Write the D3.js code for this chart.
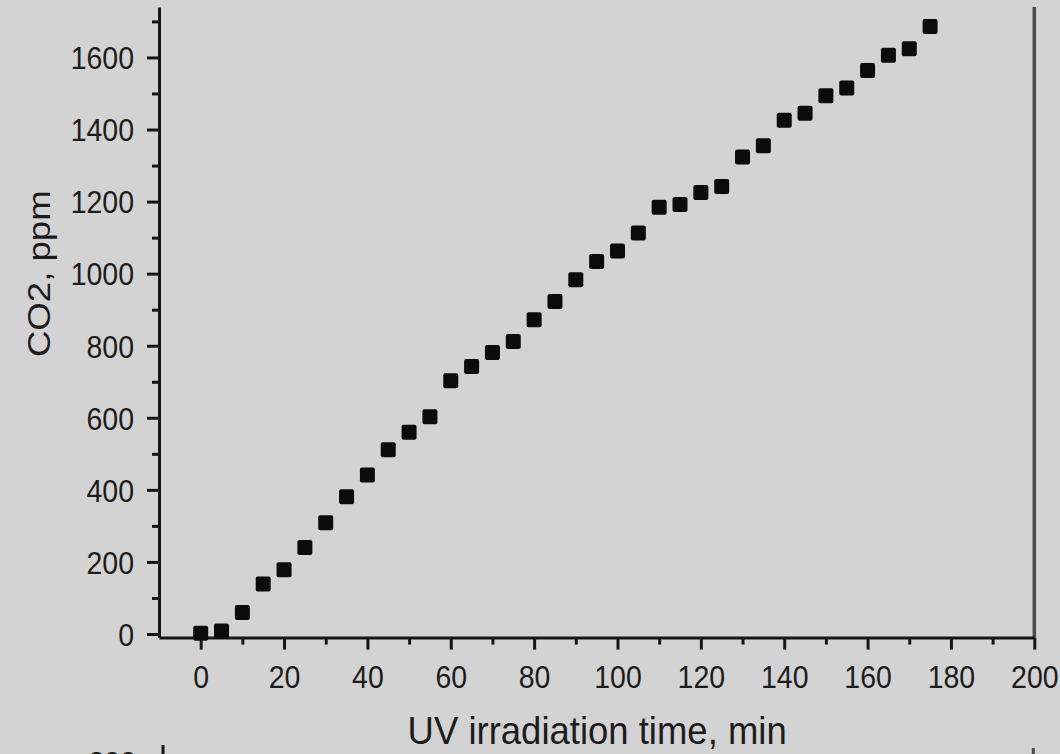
<!DOCTYPE html>
<html>
<head>
<meta charset="utf-8">
<script src="https://cdn.jsdelivr.net/npm/d3@7"></script>
<style>
  html, body { margin: 0; padding: 0; background: #d3d3d3; }
  svg { display: block; }
  text { font-family: "Liberation Sans", Arial, sans-serif; fill: #1c1c1c; }
</style>
</head>
<body>
<svg id="chart" width="1060" height="754"></svg>
<script>
// ---- data ----
const times = [0, 5, 10, 15, 20, 25, 30, 35, 40, 45, 50, 55, 60, 65, 70, 75, 80, 85,
               90, 95, 100, 105, 110, 115, 120, 125, 130, 135, 140, 145, 150, 155, 160, 165, 170, 175];
const co2 = [2, 8, 60, 139, 178, 240, 309, 381, 441, 511, 560, 603, 703, 742, 781, 812, 872, 923,
             983, 1034, 1063, 1113, 1184, 1192, 1225, 1242, 1324, 1355, 1426, 1445, 1494, 1515, 1564, 1606, 1624, 1686];
const xMajorTicks = [0, 20, 40, 60, 80, 100, 120, 140, 160, 180, 200];
const xMinorTicks = [10, 30, 50, 70, 90, 110, 130, 150, 170, 190];
const yMajorTicks = [0, 200, 400, 600, 800, 1000, 1200, 1400, 1600];
const yMinorTicks = [100, 300, 500, 700, 900, 1100, 1300, 1500, 1700];
const xTitle = "UV irradiation time, min";
const yTitle = "CO2, ppm";

// ---- layout ----
const svg = d3.select("#chart");
svg.append("rect").attr("width", 1060).attr("height", 754).attr("fill", "#d3d3d3");

const x = d3.scaleLinear().domain([-10, 200]).range([159, 1034.3]);
const y = d3.scaleLinear().domain([-10, 1740]).range([637.6, 7]);
const axisColor = "#161616";

// right frame line
svg.append("line")
  .attr("x1", x.range()[1]).attr("x2", x.range()[1])
  .attr("y1", y.range()[1]).attr("y2", y.range()[0])
  .attr("stroke", "#4d4d4d").attr("stroke-width", 3.5);

// minor ticks
svg.append("g").attr("transform", `translate(0,${y.range()[0]})`)
  .call(d3.axisBottom(x).tickValues(xMinorTicks).tickSize(7).tickSizeOuter(0).tickFormat(""))
  .call(g => g.select(".domain").remove())
  .call(g => g.selectAll("line").attr("stroke", axisColor).attr("stroke-width", 3));
svg.append("g").attr("transform", `translate(${x.range()[0]},0)`)
  .call(d3.axisLeft(y).tickValues(yMinorTicks).tickSize(7).tickSizeOuter(0).tickFormat(""))
  .call(g => g.select(".domain").remove())
  .call(g => g.selectAll("line").attr("stroke", axisColor).attr("stroke-width", 3));

// major x axis
const gx = svg.append("g").attr("transform", `translate(0,${y.range()[0]})`)
  .call(d3.axisBottom(x).tickValues(xMajorTicks).tickSize(12).tickSizeOuter(0).tickFormat(d3.format("d")));
gx.select(".domain").attr("stroke", axisColor).attr("stroke-width", 3);
gx.selectAll(".tick line").attr("stroke", axisColor).attr("stroke-width", 3);
gx.selectAll(".tick text")
  .attr("y", 45.8).attr("dy", 0)
  .attr("transform", "scale(1,1.1)")
  .style("font-size", "28.5px").attr("fill", "#1c1c1c");

// major y axis
const gy = svg.append("g").attr("transform", `translate(${x.range()[0]},0)`)
  .call(d3.axisLeft(y).tickValues(yMajorTicks).tickSize(12).tickPadding(13).tickSizeOuter(0).tickFormat(d3.format("d")));
gy.select(".domain").attr("stroke", axisColor).attr("stroke-width", 3);
gy.selectAll(".tick line").attr("stroke", axisColor).attr("stroke-width", 3);
gy.selectAll(".tick text")
  .attr("dy", "0.36em")
  .attr("transform", "scale(1,1.1)")
  .style("font-size", "28.5px").attr("fill", "#1c1c1c");

// axis titles
svg.append("text")
  .attr("transform", `translate(${(x.range()[0] + x.range()[1]) / 2 + 0.5},744) scale(1,1.07)`)
  .attr("text-anchor", "middle")
  .style("font-size", "36.5px")
  .text(xTitle);
svg.append("text")
  .attr("transform", `translate(50,${(y(0) + y(1600)) / 2 - 72}) rotate(-90) scale(1.18,1)`)
  .attr("text-anchor", "middle")
  .style("font-size", "31px")
  .text(yTitle);

// data markers
const ms = 15;
svg.append("g").selectAll("rect")
  .data(times.map((t, i) => ({t, v: co2[i]})))
  .join("rect")
  .attr("x", d => x(d.t) - ms / 2)
  .attr("y", d => y(d.v) - ms / 2)
  .attr("width", ms).attr("height", ms)
  .attr("rx", 2)
  .attr("fill", "#0b0b0b");

// top of the next panel peeking in at the bottom edge
svg.append("line")
  .attr("x1", x.range()[0] + 4).attr("x2", x.range()[0] + 4)
  .attr("y1", 745).attr("y2", 754)
  .attr("stroke", axisColor).attr("stroke-width", 3);
svg.append("line")
  .attr("x1", x.range()[1] - 1).attr("x2", x.range()[1] - 1)
  .attr("y1", 748).attr("y2", 754)
  .attr("stroke", "#4d4d4d").attr("stroke-width", 3);
svg.append("text")
  .attr("x", 136).attr("y", 771)
  .attr("text-anchor", "end")
  .style("font-size", "28.5px")
  .text("200");
</script>
</body>
</html>
